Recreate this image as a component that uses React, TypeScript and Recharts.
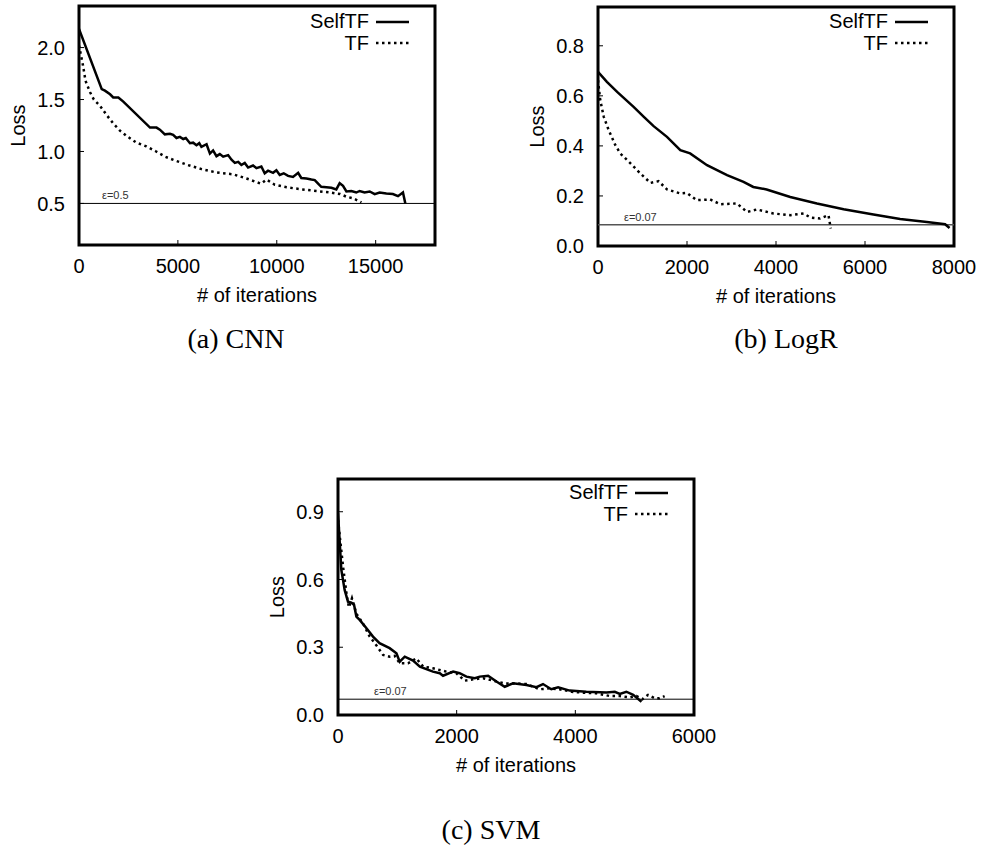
import { LineChart, Line, XAxis, YAxis, ReferenceLine, ReferenceArea, Legend } from "recharts";

const FONT = "'Liberation Sans', Arial, Helvetica, sans-serif";

// (a) CNN
const cnnSelfIter = [0, 1150, 1310, 1570, 1730, 1990, 2240, 3590, 3920, 4090, 4340, 4600, 4760, 4930, 5100, 5270, 5400, 5610, 5770, 5940, 6080, 6190, 6450, 6620, 6780, 6950, 7120, 7290, 7540, 7710, 7880, 8050, 8210, 8380, 8550, 8800, 8970, 9220, 9390, 9560, 9810, 9980, 10150, 10350, 10570, 10820, 11080, 11240, 11500, 11750, 11920, 12090, 12250, 12510, 12760, 13010, 13180, 13350, 13520, 13770, 14020, 14190, 14440, 14700, 14950, 15200, 15540, 15870, 16130, 16380, 16500];
const cnnSelfLoss = [2.18, 1.6, 1.585, 1.55, 1.52, 1.52, 1.48, 1.23, 1.23, 1.21, 1.165, 1.17, 1.16, 1.13, 1.14, 1.12, 1.13, 1.08, 1.085, 1.06, 1.08, 1.045, 1.07, 0.98, 1.01, 0.955, 0.975, 0.95, 0.965, 0.92, 0.89, 0.9, 0.87, 0.89, 0.845, 0.865, 0.84, 0.855, 0.79, 0.815, 0.795, 0.82, 0.775, 0.79, 0.765, 0.755, 0.795, 0.745, 0.74, 0.73, 0.725, 0.69, 0.66, 0.655, 0.65, 0.635, 0.695, 0.67, 0.615, 0.62, 0.605, 0.62, 0.605, 0.615, 0.59, 0.605, 0.595, 0.59, 0.57, 0.605, 0.5];
const cnnTfIter = [0, 200, 330, 560, 750, 1060, 1400, 1730, 2070, 2410, 2900, 3400, 3900, 4350, 4900, 5500, 6200, 6900, 7790, 8470, 9200, 9480, 9900, 10500, 11300, 12000, 12700, 13200, 13520, 13850, 14280];
const cnnTfLoss = [2.02, 1.83, 1.68, 1.57, 1.5, 1.44, 1.35, 1.27, 1.2, 1.15, 1.085, 1.05, 1.0, 0.95, 0.91, 0.87, 0.83, 0.8, 0.78, 0.74, 0.69, 0.73, 0.68, 0.655, 0.635, 0.62, 0.605, 0.59, 0.565, 0.55, 0.51];

// (b) LogR
const logrSelfIter = [0, 200, 430, 800, 1030, 1250, 1550, 1850, 2070, 2450, 2900, 3270, 3490, 3790, 4320, 4920, 5520, 6190, 6790, 7390, 7800, 7900];
const logrSelfLoss = [0.696, 0.656, 0.616, 0.556, 0.516, 0.479, 0.436, 0.383, 0.37, 0.323, 0.283, 0.256, 0.236, 0.226, 0.196, 0.17, 0.147, 0.126, 0.108, 0.096, 0.087, 0.072];
const logrTfIter = [0, 50, 130, 240, 390, 500, 730, 950, 1180, 1360, 1550, 1850, 2000, 2220, 2520, 2750, 3120, 3350, 3570, 3940, 4320, 4620, 4770, 4990, 5180, 5230];
const logrTfLoss = [0.663, 0.583, 0.516, 0.463, 0.403, 0.37, 0.33, 0.29, 0.252, 0.259, 0.226, 0.21, 0.212, 0.183, 0.186, 0.167, 0.17, 0.136, 0.146, 0.13, 0.123, 0.13, 0.114, 0.11, 0.123, 0.07];

// (c) SVM
const svmSelfIter = [0, 30, 56, 112, 168, 225, 270, 310, 365, 480, 590, 700, 870, 985, 1040, 1125, 1265, 1380, 1600, 1715, 1770, 1940, 2050, 2165, 2305, 2390, 2530, 2670, 2810, 2950, 3175, 3345, 3455, 3595, 3710, 3905, 4185, 4525, 4665, 4750, 4860, 4975, 5115];
const svmSelfLoss = [0.894, 0.761, 0.643, 0.554, 0.502, 0.498, 0.488, 0.436, 0.421, 0.384, 0.347, 0.318, 0.296, 0.273, 0.236, 0.258, 0.241, 0.214, 0.192, 0.185, 0.174, 0.192, 0.185, 0.17, 0.163, 0.17, 0.174, 0.148, 0.125, 0.14, 0.133, 0.123, 0.137, 0.114, 0.123, 0.108, 0.103, 0.1, 0.103, 0.093, 0.103, 0.089, 0.059];
const svmTfIter = [0, 85, 150, 185, 235, 310, 420, 535, 620, 760, 870, 955, 1040, 1180, 1320, 1435, 1600, 1825, 1995, 2135, 2275, 2445, 2615, 2810, 3005, 3175, 3400, 3570, 3735, 3935, 4130, 4355, 4580, 4750, 4915, 5030, 5130, 5225, 5340, 5420, 5505];
const svmTfLoss = [0.864, 0.657, 0.524, 0.477, 0.517, 0.448, 0.406, 0.347, 0.318, 0.266, 0.258, 0.262, 0.229, 0.229, 0.251, 0.214, 0.207, 0.192, 0.185, 0.152, 0.158, 0.163, 0.152, 0.14, 0.14, 0.137, 0.114, 0.118, 0.114, 0.103, 0.099, 0.096, 0.084, 0.084, 0.078, 0.084, 0.07, 0.089, 0.074, 0.074, 0.084];

const seriesNames = ["SelfTF", "TF"];
const captions = ["(a) CNN", "(b) LogR", "(c) SVM"];

const toPoints = (iters: number[], losses: number[]) =>
  iters.map((iter, i) => ({ iter, loss: losses[i] }));

const LegendKey = ({ payload }: any) => (
  <div style={{ fontFamily: FONT, fontSize: 20, color: "#000" }}>
    {(payload || []).map((entry: any) => (
      <div
        key={entry.value}
        style={{ display: "flex", justifyContent: "flex-end", alignItems: "center", height: 21.6 }}
      >
        <span>{entry.value}</span>
        <svg width={40} height={10}>
          <line
            x1={7}
            x2={40}
            y1={5}
            y2={5}
            stroke="#000"
            strokeWidth={2.5}
            strokeDasharray={entry.payload?.strokeDasharray}
          />
        </svg>
      </div>
    ))}
  </div>
);

const EpsLabel = ({ viewBox, text, dx }: any) => (
  <text x={viewBox.x + dx} y={viewBox.y - 4} fontSize={11} fill="#333" fontFamily={FONT}>
    {text}
  </text>
);

const LossTitle = ({ viewBox }: any) => {
  const cx = viewBox.x + viewBox.width - 61;
  const cy = viewBox.y + viewBox.height / 2;
  return (
    <text
      x={cx}
      y={cy}
      transform={`rotate(-90, ${cx}, ${cy})`}
      textAnchor="middle"
      dominantBaseline="central"
      fontSize={20}
      fontFamily={FONT}
      fill="#000"
    >
      Loss
    </text>
  );
};

const IterTitle = ({ viewBox }: any) => (
  <text
    x={viewBox.x + viewBox.width / 2}
    y={viewBox.y + 57}
    textAnchor="middle"
    fontSize={20}
    fontFamily={FONT}
    fill="#000"
  >
    # of iterations
  </text>
);

type PanelProps = {
  left: number;
  top: number;
  width: number;
  height: number;
  marginTop: number;
  marginRight: number;
  yAxisWidth: number;
  xDomain: [number, number];
  xTicks: number[];
  yDomain: [number, number];
  yTicks: number[];
  eps: number;
  epsText: string;
  epsDx: number;
  epsColor: string;
  epsWidth: number;
  self: { iter: number; loss: number }[];
  tf: { iter: number; loss: number }[];
  legendTop: number;
  legendRight: number;
};

const tickLine = { stroke: "#000", strokeWidth: 1 };
const tickStyle = { fill: "#000", fontSize: 20, fontFamily: FONT };

function Panel(p: PanelProps) {
  return (
    <div style={{ position: "absolute", left: p.left, top: p.top }}>
      <LineChart
        width={p.width}
        height={p.height}
        margin={{ top: p.marginTop, right: p.marginRight, bottom: 0, left: 0 }}
      >
        <XAxis
          xAxisId="b"
          type="number"
          dataKey="iter"
          domain={p.xDomain}
          ticks={p.xTicks}
          interval={0}
          allowDataOverflow
          height={65}
          axisLine={false}
          tickLine={tickLine}
          tickSize={-5}
          tickMargin={19}
          tick={tickStyle}
          label={<IterTitle />}
        />
        <XAxis
          xAxisId="t"
          orientation="top"
          mirror
          type="number"
          domain={p.xDomain}
          ticks={p.xTicks}
          interval={0}
          allowDataOverflow
          height={2}
          axisLine={false}
          tickLine={tickLine}
          tickSize={5}
          tick={false}
        />
        <YAxis
          yAxisId="l"
          type="number"
          domain={p.yDomain}
          ticks={p.yTicks}
          interval={0}
          allowDataOverflow
          width={p.yAxisWidth}
          axisLine={false}
          tickLine={tickLine}
          tickSize={-5}
          tickMargin={19}
          tick={tickStyle}
          tickFormatter={(v: number) => v.toFixed(1)}
          label={<LossTitle />}
        />
        <YAxis
          yAxisId="r"
          orientation="right"
          mirror
          type="number"
          domain={p.yDomain}
          ticks={p.yTicks}
          interval={0}
          allowDataOverflow
          width={2}
          axisLine={false}
          tickLine={tickLine}
          tickSize={5}
          tick={false}
        />
        <ReferenceLine
          xAxisId="b"
          yAxisId="l"
          y={p.eps}
          stroke={p.epsColor}
          strokeWidth={p.epsWidth}
          label={<EpsLabel text={p.epsText} dx={p.epsDx} />}
        />
        <Line
          xAxisId="b"
          yAxisId="l"
          data={p.self}
          dataKey="loss"
          name={seriesNames[0]}
          type="linear"
          stroke="#000"
          strokeWidth={2.5}
          dot={false}
          isAnimationActive={false}
        />
        <Line
          xAxisId="b"
          yAxisId="l"
          data={p.tf}
          dataKey="loss"
          name={seriesNames[1]}
          type="linear"
          stroke="#000"
          strokeWidth={2.5}
          strokeDasharray="2.5 3.5"
          dot={false}
          isAnimationActive={false}
        />
        <ReferenceArea
          xAxisId="b"
          yAxisId="l"
          x1={p.xDomain[0]}
          x2={p.xDomain[1]}
          y1={p.yDomain[0]}
          y2={p.yDomain[1]}
          fill="none"
          fillOpacity={0}
          stroke="#000"
          strokeWidth={3}
          ifOverflow="visible"
        />
        <Legend
          layout="vertical"
          align="center"
          verticalAlign="middle"
          content={<LegendKey />}
          wrapperStyle={{ top: p.legendTop, right: p.legendRight, width: "auto" }}
        />
      </LineChart>
    </div>
  );
}

const Caption = ({ text, cx, cy }: { text: string; cx: number; cy: number }) => (
  <div
    style={{
      position: "absolute",
      left: cx - 150,
      top: cy - 17,
      width: 300,
      height: 34,
      lineHeight: "34px",
      textAlign: "center",
      fontFamily: "'Liberation Serif', 'DejaVu Serif', serif",
      fontSize: 28,
      color: "#000",
    }}
  >
    {text}
  </div>
);

export default function App() {
  return (
    <div style={{ position: "absolute", left: 0, top: 0, width: 984, height: 854, background: "#fff" }}>
      <Panel
        left={0}
        top={0}
        width={450}
        height={310}
        marginTop={6}
        marginRight={15}
        yAxisWidth={79}
        xDomain={[0, 18000]}
        xTicks={[0, 5000, 10000, 15000]}
        yDomain={[0.1, 2.4]}
        yTicks={[0.5, 1.0, 1.5, 2.0]}
        eps={0.5}
        epsText="ε=0.5"
        epsDx={23}
        epsColor="#000"
        epsWidth={1}
        self={toPoints(cnnSelfIter, cnnSelfLoss)}
        tf={toPoints(cnnTfIter, cnnTfLoss)}
        legendTop={11}
        legendRight={41}
      />
      <Panel
        left={520}
        top={0}
        width={464}
        height={311}
        marginTop={7}
        marginRight={30}
        yAxisWidth={78}
        xDomain={[0, 8000]}
        xTicks={[0, 2000, 4000, 6000, 8000]}
        yDomain={[0, 0.955]}
        yTicks={[0, 0.2, 0.4, 0.6, 0.8]}
        eps={0.085}
        epsText="ε=0.07"
        epsDx={26}
        epsColor="#555"
        epsWidth={1.5}
        self={toPoints(logrSelfIter, logrSelfLoss)}
        tf={toPoints(logrTfIter, logrTfLoss)}
        legendTop={11}
        legendRight={56}
      />
      <Panel
        left={260}
        top={472}
        width={460}
        height={308}
        marginTop={7}
        marginRight={26}
        yAxisWidth={78}
        xDomain={[0, 6000]}
        xTicks={[0, 2000, 4000, 6000]}
        yDomain={[0, 1.045]}
        yTicks={[0, 0.3, 0.6, 0.9]}
        eps={0.07}
        epsText="ε=0.07"
        epsDx={36}
        epsColor="#000"
        epsWidth={1}
        self={toPoints(svmSelfIter, svmSelfLoss)}
        tf={toPoints(svmTfIter, svmTfLoss)}
        legendTop={10}
        legendRight={52}
      />
      <Caption text={captions[0]} cx={236} cy={339} />
      <Caption text={captions[1]} cx={786} cy={339} />
      <Caption text={captions[2]} cx={491} cy={830} />
    </div>
  );
}
